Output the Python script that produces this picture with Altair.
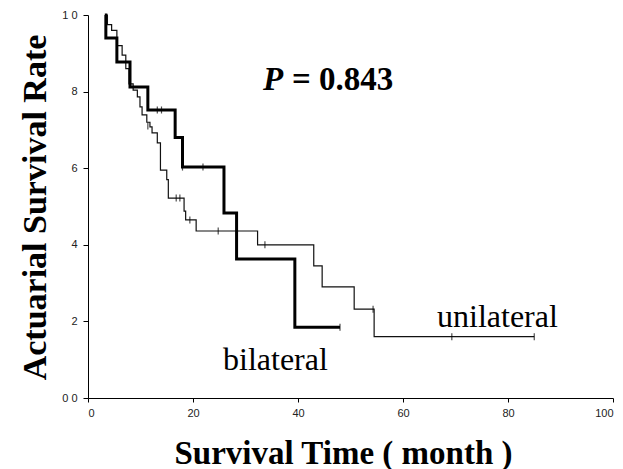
import altair as alt
import pandas as pd

# bilateral (thick) step curve
bi_time = [3.2, 3.4, 5.5, 8.0, 11.4, 16.6, 18.0, 25.9, 28.3, 39.4, 48.0]
bi_surv = [10.0, 9.4, 8.77, 8.12, 7.52, 6.8, 6.03, 4.83, 3.63, 1.85, 1.85]
bi_cens_t = [13.2, 14.0, 18.0, 21.9, 48.0]
bi_cens_s = [7.52, 7.52, 6.03, 6.03, 1.85]

# unilateral (thin) step curve
uni_time = [3.4, 3.7, 4.5, 5.5, 6.5, 7.2, 7.8, 8.6, 9.4, 9.9, 10.3, 11.2, 11.8,
            12.2, 13.2, 13.8, 15.0, 15.3, 18.3, 18.6, 20.6, 32.3, 43.0, 44.6,
            50.7, 54.5, 85.0]
uni_surv = [10.0, 9.75, 9.6, 9.2, 8.95, 8.6, 8.2, 8.04, 7.86, 7.6, 7.39, 7.2, 7.08,
            6.92, 6.66, 5.95, 5.7, 5.22, 4.88, 4.65, 4.36, 4.0, 3.45, 2.9,
            2.32, 1.6, 1.6]
uni_cens_t = [11.4, 16.8, 17.5, 19.4, 24.8, 28.3, 33.7, 54.3, 69.3, 85.0]
uni_cens_s = [7.1, 5.22, 5.22, 4.65, 4.36, 4.36, 4.0, 2.32, 1.6, 1.6]

x_ticks = [0, 20, 40, 60, 80, 100]
y_ticks = [0, 2, 4, 6, 8, 10]

bi = pd.DataFrame({"t": bi_time, "s": bi_surv})
uni = pd.DataFrame({"t": uni_time, "s": uni_surv})
bic = pd.DataFrame({"t": bi_cens_t, "s": bi_cens_s})
unic = pd.DataFrame({"t": uni_cens_t, "s": uni_cens_s})

xs = alt.Scale(domain=[0, 100], nice=False)
ys = alt.Scale(domain=[0, 10], nice=False)

xaxis = alt.Axis(values=x_ticks, title="Survival Time ( month )", grid=False,
                 labelFont="Liberation Sans", labelFontSize=11, labelColor="#222",
                 tickSize=4, labelPadding=5, domainColor="black", tickColor="black",
                 titleFont="Liberation Serif", titleFontSize=33, titleFontWeight="bold",
                 titleColor="black", titleX=255, titleY=65, titleAlign="center",
                 titleBaseline="alphabetic")
yaxis = alt.Axis(values=y_ticks, title="Actuarial Survival Rate", grid=False,
                 labelFont="Liberation Sans", labelFontSize=11, labelColor="#222",
                 labelExpr="datum.value == 0 ? '0 0' : datum.value == 10 ? '1 0' : datum.label",
                 tickSize=5, labelPadding=6, domainColor="black", tickColor="black",
                 titleFont="Liberation Serif", titleFontSize=34, titleFontWeight="bold",
                 titleColor="black", titleX=-53, titleY=192, titleAngle=-90,
                 titleAlign="center", titleBaseline="middle")

thin = alt.Chart(uni).mark_line(interpolate="step-after", color="#111", strokeWidth=1.2).encode(
    x=alt.X("t:Q", scale=xs, axis=xaxis),
    y=alt.Y("s:Q", scale=ys, axis=yaxis),
)
thick = alt.Chart(bi).mark_line(interpolate="step-after", color="black", strokeWidth=3).encode(
    x=alt.X("t:Q", scale=xs), y=alt.Y("s:Q", scale=ys)
)
cens1 = alt.Chart(bic).mark_tick(orient="vertical", size=7, thickness=1.2, color="black").encode(
    x=alt.X("t:Q", scale=xs), y=alt.Y("s:Q", scale=ys)
)
cens2 = alt.Chart(unic).mark_tick(orient="vertical", size=7, thickness=1.2, color="black").encode(
    x=alt.X("t:Q", scale=xs), y=alt.Y("s:Q", scale=ys)
)

ann = pd.DataFrame({"a": [0]})
p1 = alt.Chart(ann).mark_text(text="P", font="Liberation Serif", fontSize=33, fontWeight="bold",
                              fontStyle="italic", align="left", baseline="alphabetic",
                              color="black").encode(x=alt.value(175), y=alt.value(75))
p2 = alt.Chart(ann).mark_text(text="= 0.843", font="Liberation Serif", fontSize=33, fontWeight="bold",
                              align="left", baseline="alphabetic",
                              color="black").encode(x=alt.value(204), y=alt.value(75))
lb = alt.Chart(ann).mark_text(text="bilateral", font="Liberation Serif", fontSize=32,
                              align="left", baseline="alphabetic",
                              color="black").encode(x=alt.value(135), y=alt.value(355))
lu = alt.Chart(ann).mark_text(text="unilateral", font="Liberation Serif", fontSize=32,
                              align="left", baseline="alphabetic",
                              color="black").encode(x=alt.value(349), y=alt.value(312))

chart = alt.layer(thin, thick, cens1, cens2, p1, p2, lb, lu).properties(
    width=525, height=383,
    autosize=alt.AutoSizeParams(type="none"),
    padding={"left": 88, "top": 15, "right": 10, "bottom": 71},
    background="white",
).configure_view(stroke=None)

chart.save("out.html", embed_options={"renderer": "svg", "actions": False})
